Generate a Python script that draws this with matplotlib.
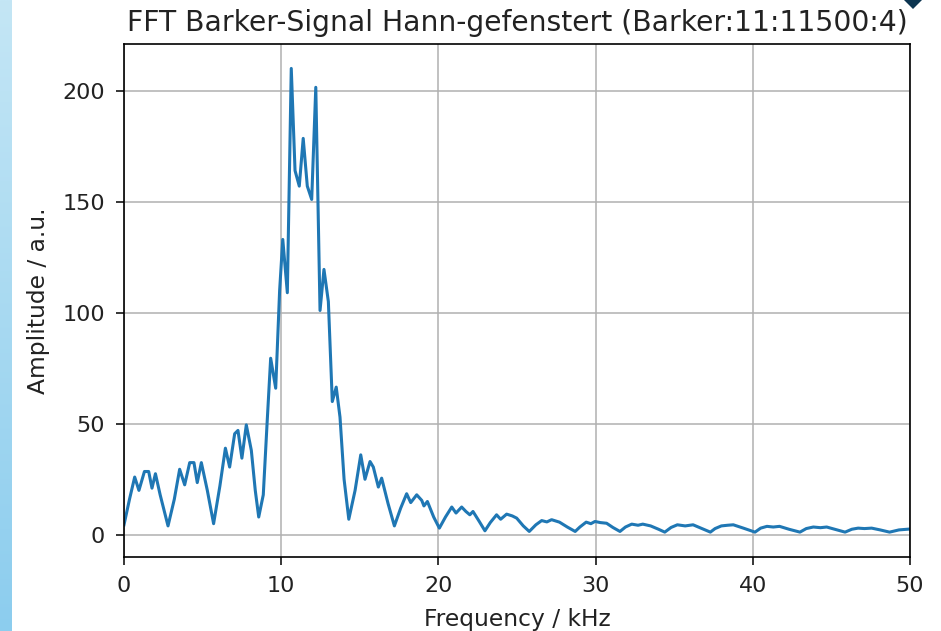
import numpy as np
import matplotlib
matplotlib.use("Agg")
import matplotlib.pyplot as plt
from matplotlib.patches import Polygon
from matplotlib.colors import LinearSegmentedColormap

# Data (frequency in kHz, amplitude in a.u.)
freq_khz = [0.0, 0.35, 0.68, 0.95, 1.3, 1.57, 1.78, 2.0, 2.3, 2.8, 3.2, 3.54, 3.86,
            4.18, 4.45, 4.66, 4.92, 5.3, 5.7, 6.1, 6.45, 6.72, 7.04, 7.25, 7.5, 7.78,
            8.1, 8.35, 8.57, 8.86, 9.1, 9.33, 9.65, 9.9, 10.1, 10.39, 10.64, 10.88,
            11.15, 11.4, 11.66, 11.94, 12.2, 12.47, 12.72, 13.0, 13.25, 13.5, 13.74,
            14.0, 14.3, 14.7, 15.06, 15.33, 15.65, 15.86, 16.18, 16.39, 16.8, 17.2,
            17.6, 17.98, 18.24, 18.62, 18.94, 19.08, 19.3, 19.7, 20.06, 20.45, 20.85,
            21.12, 21.48, 21.75, 22.0, 22.2, 22.6, 22.96, 23.3, 23.7, 23.96, 24.34,
            24.7, 24.98, 25.4, 25.78, 26.2, 26.57, 26.9, 27.2, 27.7, 28.2, 28.7, 29.0,
            29.4, 29.7, 29.96, 30.3, 30.7, 31.1, 31.55, 31.9, 32.3, 32.7, 33.0, 33.5,
            34.0, 34.4, 34.8, 35.2, 35.7, 36.2, 36.7, 37.3, 37.6, 38.0, 38.4, 38.76,
            39.4, 40.14, 40.5, 40.9, 41.3, 41.7, 42.3, 43.0, 43.4, 43.85, 44.3, 44.7,
            45.3, 45.87, 46.3, 46.7, 47.1, 47.56, 48.1, 48.7, 49.3, 50.0]
amplitude = [4.5, 16, 26, 20, 28.5, 28.5, 21, 27.5, 18, 4, 16, 29.5, 22.5,
             32.5, 32.5, 23.5, 32.5, 20, 5, 22, 39, 30.5, 45.5, 47, 34.5, 49.5,
             38, 20, 8, 18, 50, 79.5, 66, 110, 133, 109, 210, 164,
             157, 178.5, 157, 151, 201.5, 101, 119.5, 105, 60, 66.5, 53,
             25, 7, 20, 36, 25, 33, 30.5, 21.5, 25.5, 14, 4,
             12, 18.5, 14.5, 18, 15.5, 13, 15, 8, 3, 8, 12.5,
             9.8, 12.5, 10.5, 9, 10.5, 6, 1.8, 5.5, 9, 7, 9.3,
             8.5, 7.5, 4, 1.5, 4.5, 6.4, 5.8, 6.8, 5.7, 3.5, 1.5, 3.5,
             5.7, 5.0, 6, 5.5, 5.2, 3.3, 1.5, 3.5, 4.8, 4.3, 4.8, 4.0,
             2.5, 1.2, 3.3, 4.5, 4.0, 4.5, 3.0, 1.2, 2.8, 4.0, 4.3, 4.5,
             3.0, 1.2, 3.0, 3.8, 3.5, 3.8, 2.5, 1.2, 2.8, 3.5, 3.2, 3.5,
             2.3, 1.2, 2.5, 3.0, 2.8, 3.0, 2.2, 1.2, 2.2, 2.6]

x_ticks = [0, 10, 20, 30, 40, 50]
y_ticks = [0, 50, 100, 150, 200]
title = "FFT Barker-Signal Hann-gefenstert (Barker:11:11500:4)"
xlabel = "Frequency / kHz"
ylabel = "Amplitude / a.u."

plt.rcParams['font.family'] = ['DejaVu Sans']

fig = plt.figure(figsize=(9.41, 6.31), dpi=100)
fig.patch.set_facecolor("white")

# light-blue strip at the left edge of the screenshot
strip = fig.add_axes([0, 0, 12 / 941, 1])
grad = np.linspace(0, 1, 256).reshape(-1, 1)
cmap = LinearSegmentedColormap.from_list("strip", ["#c4e6f5", "#8ccdee"])
strip.imshow(grad, aspect="auto", cmap=cmap, extent=[0, 1, 0, 1], origin="upper")
strip.set_axis_off()

# small dark marker at the top right corner
fig.patches.append(Polygon([[904 / 941, 1.0], [922 / 941, 1.0],
                            [913 / 941, 1 - 9 / 631]], closed=True,
                           transform=fig.transFigure, facecolor="#0c3550",
                           edgecolor="none"))

ax = fig.add_axes([124 / 941, 1 - 557 / 631, (910 - 124) / 941, (557 - 44) / 631])
ax.plot(freq_khz, amplitude, color="#1f77b4", linewidth=2.2)
ax.set_xlim(0, 50)
ax.set_ylim(-10, 221)
ax.set_xticks(x_ticks)
ax.set_yticks(y_ticks)
ax.grid(True, color="#b0b0b0", linewidth=1.1)
ax.set_title(title, fontsize=20.3, pad=9.5, color="#222222")
ax.set_xlabel(xlabel, fontsize=16.8, labelpad=9, color="#222222")
ax.set_ylabel(ylabel, fontsize=16.8, labelpad=9, color="#222222")
ax.tick_params(labelsize=16, length=6, width=1.1, pad=7.5, labelcolor="#222222")
for s in ax.spines.values():
    s.set_linewidth(1.2)

fig.savefig("out.png", dpi=100)
